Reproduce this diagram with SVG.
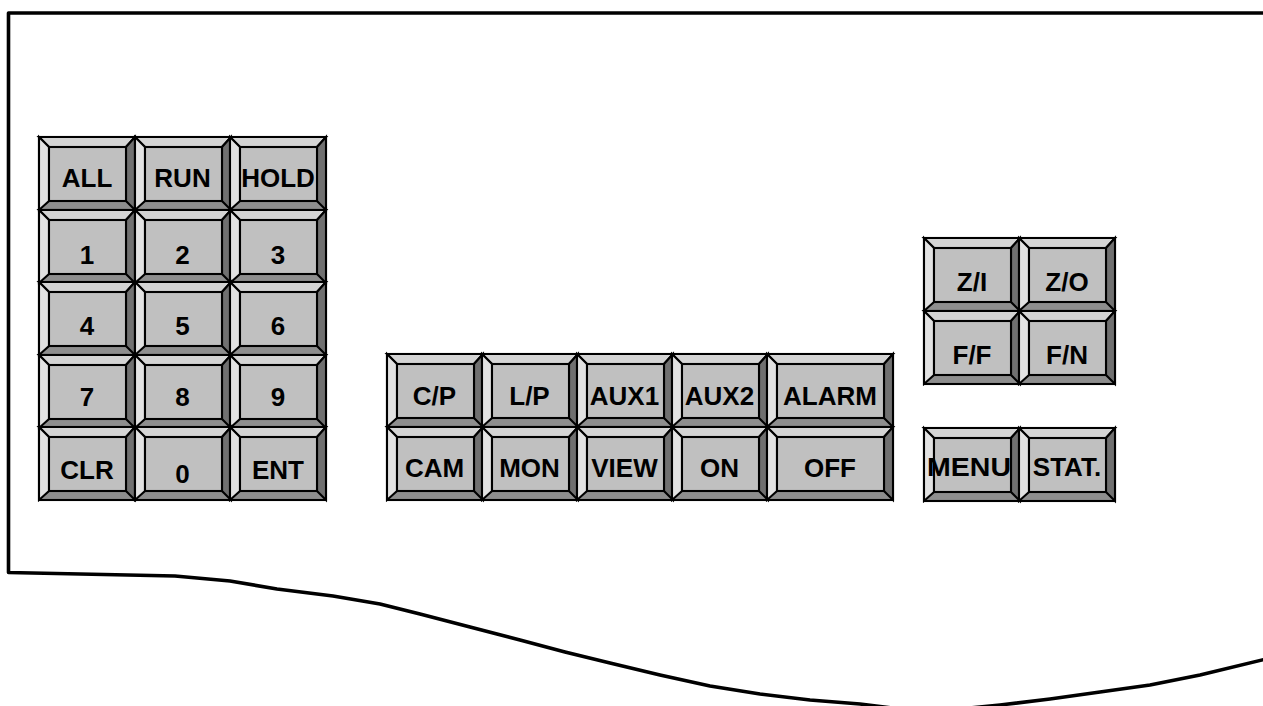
<svg xmlns="http://www.w3.org/2000/svg" width="1263" height="706" viewBox="0 0 1263 706">
<style>
.face{fill:#c0c0c0}
.tp{fill:#d4d4d4}
.lf{fill:#e2e2e2}
.rt{fill:#707070}
.bt{fill:#8e8e8e}
.ln{stroke:#000;stroke-width:2.1;stroke-linejoin:miter}
text{font-family:"Liberation Sans",Arial,sans-serif;font-weight:bold;font-size:26px;fill:#000;text-anchor:middle}
.frame{fill:none;stroke:#000;stroke-width:3.6;stroke-linejoin:round}
</style>
<defs>
<g id="key">
<rect class="bt ln" x="0" y="0" width="96" height="73"/>
<polygon class="tp ln" points="0,0 96,0 87,10 10,10"/>
<polygon class="lf ln" points="0,0 10,10 10,64 0,73"/>
<polygon class="rt ln" points="96,0 96,73 87,64 87,10"/>
<rect class="face ln" x="10" y="10" width="77" height="54"/>
</g>
<g id="wkey">
<rect class="bt ln" x="0" y="0" width="126" height="73"/>
<polygon class="tp ln" points="0,0 126,0 117,10 10,10"/>
<polygon class="lf ln" points="0,0 10,10 10,64 0,73"/>
<polygon class="rt ln" points="126,0 126,73 117,64 117,10"/>
<rect class="face ln" x="10" y="10" width="107" height="54"/>
</g>
</defs>
<g id="frame">
<path class="frame" d="M1266 13 H8.5 V572.5 L175 576 L230 581 L277 589 L333 596 L380 604 L420 614 L470 627 L520 640 L565 652 L610 663 L660 675 L710 686 L760 694 L810 700 L860 704 L900 709 L960 709 L1000 705 L1050 699 L1100 692 L1150 685 L1200 675 L1266 659"/>
</g>
<g id="keypad">
<g id="key-all"><use href="#key" x="39" y="137"/><text x="87" y="187">ALL</text></g>
<g id="key-run"><use href="#key" x="135" y="137"/><text x="182.5" y="187">RUN</text></g>
<g id="key-hold"><use href="#key" x="230" y="137"/><text x="278" y="187">HOLD</text></g>
<g id="key-1"><use href="#key" x="39" y="210"/><text x="87" y="264">1</text></g>
<g id="key-2"><use href="#key" x="135" y="210"/><text x="182.5" y="264">2</text></g>
<g id="key-3"><use href="#key" x="230" y="210"/><text x="278" y="264">3</text></g>
<g id="key-4"><use href="#key" x="39" y="282"/><text x="87" y="335">4</text></g>
<g id="key-5"><use href="#key" x="135" y="282"/><text x="182.5" y="335">5</text></g>
<g id="key-6"><use href="#key" x="230" y="282"/><text x="278" y="335">6</text></g>
<g id="key-7"><use href="#key" x="39" y="355"/><text x="87" y="406">7</text></g>
<g id="key-8"><use href="#key" x="135" y="355"/><text x="182.5" y="406">8</text></g>
<g id="key-9"><use href="#key" x="230" y="355"/><text x="278" y="406">9</text></g>
<g id="key-clr"><use href="#key" x="39" y="427"/><text x="87" y="479">CLR</text></g>
<g id="key-0"><use href="#key" x="135" y="427"/><text x="182.5" y="483">0</text></g>
<g id="key-ent"><use href="#key" x="230" y="427"/><text x="278" y="479">ENT</text></g>
</g>
<g id="function-keys">
<g id="key-cp"><use href="#key" x="387" y="354"/><text x="434.5" y="405">C/P</text></g>
<g id="key-lp"><use href="#key" x="482" y="354"/><text x="529.5" y="405">L/P</text></g>
<g id="key-aux1"><use href="#key" x="577" y="354"/><text x="624.5" y="405">AUX1</text></g>
<g id="key-aux2"><use href="#key" x="672" y="354"/><text x="719.5" y="405">AUX2</text></g>
<g id="key-alarm"><use href="#wkey" x="767" y="354"/><text x="830" y="405">ALARM</text></g>
<g id="key-cam"><use href="#key" x="387" y="427"/><text x="434.5" y="477">CAM</text></g>
<g id="key-mon"><use href="#key" x="482" y="427"/><text x="529.5" y="477">MON</text></g>
<g id="key-view"><use href="#key" x="577" y="427"/><text x="624.5" y="477">VIEW</text></g>
<g id="key-on"><use href="#key" x="672" y="427"/><text x="719.5" y="477">ON</text></g>
<g id="key-off"><use href="#wkey" x="767" y="427"/><text x="830" y="477">OFF</text></g>
</g>
<g id="lens-keys">
<g id="key-zi"><use href="#key" x="924" y="238"/><text x="972" y="291">Z/I</text></g>
<g id="key-zo"><use href="#key" x="1019" y="238"/><text x="1067" y="291">Z/O</text></g>
<g id="key-ff"><use href="#key" x="924" y="311"/><text x="972" y="364">F/F</text></g>
<g id="key-fn"><use href="#key" x="1019" y="311"/><text x="1067" y="364">F/N</text></g>
</g>
<g id="menu-keys">
<g id="key-menu"><use href="#key" x="924" y="428"/><text x="969" y="476" textLength="84" lengthAdjust="spacingAndGlyphs">MENU</text></g>
<g id="key-stat"><use href="#key" x="1019" y="428"/><text x="1067" y="476">STAT.</text></g>
</g>
</svg>
